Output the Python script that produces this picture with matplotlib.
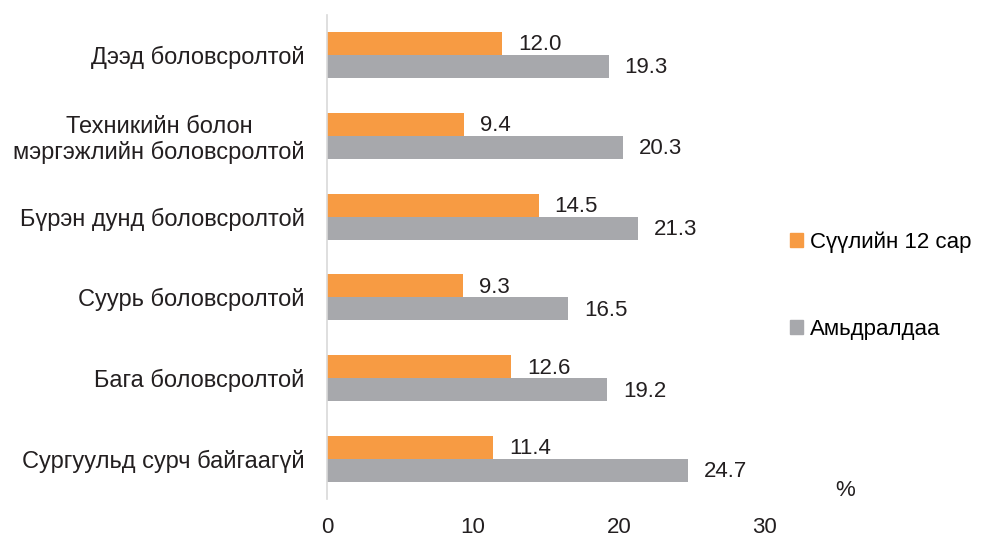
import numpy as np
import matplotlib.pyplot as plt
from matplotlib.patches import Patch

plt.rcParams['font.family'] = ['Liberation Sans', 'DejaVu Sans']

# --- dane ---
categories = [
    "Дээд боловсролтой",
    "Техникийн болон\nмэргэжлийн боловсролтой",
    "Бүрэн дунд боловсролтой",
    "Суурь боловсролтой",
    "Бага боловсролтой",
    "Сургуульд сурч байгаагүй",
]
last_12_months = [12.0, 9.4, 14.5, 9.3, 12.6, 11.4]
lifetime = [19.3, 20.3, 21.3, 16.5, 19.2, 24.7]
series_labels = ["Сүүлийн 12 сар", "Амьдралдаа"]
x_ticks = [0, 10, 20, 30]

ORANGE = "#F79B43"
GRAY = "#A7A8AC"
TXT = "#231F20"

fig = plt.figure(figsize=(9.82, 5.39), dpi=100)
ax = fig.add_axes([0.333, 0.0735, 0.446, 0.8995])

y = np.arange(len(categories))
h = 0.285
b1 = ax.barh(y - h / 2, last_12_months, height=h, color=ORANGE)
b2 = ax.barh(y + h / 2, lifetime, height=h, color=GRAY)

for bars in (b1, b2):
    for rect in bars:
        w = rect.get_width()
        ax.annotate(f"{w:.1f}", (w, rect.get_y() + rect.get_height() / 2),
                    xytext=(11.5, -1), textcoords="offset points",
                    va="center", ha="left", fontsize=16, color=TXT)

ax.set_ylim(len(categories) - 0.5, -0.5)
ax.set_xlim(0, 30)
ax.set_yticks(y)
ax.set_yticklabels(categories, fontsize=17, color=TXT, ha="right",
                   multialignment="center")
ax.set_xticks(x_ticks)
ax.set_xticklabels([str(t) for t in x_ticks], fontsize=16, color=TXT)
ax.tick_params(axis="both", length=0)
ax.tick_params(axis="x", pad=13)
ax.tick_params(axis="y", pad=16)

for s in ("top", "right", "bottom"):
    ax.spines[s].set_visible(False)
ax.spines["left"].set_color("#D9D9D9")
ax.spines["left"].set_linewidth(1.2)

fig.text(845 / 982, 1 - 491 / 539, "%", fontsize=16, color=TXT,
         ha="center", va="center")

handles = [Patch(color=ORANGE, label=series_labels[0]),
           Patch(color=GRAY, label=series_labels[1])]
fig.legend(handles=handles, loc="center left", bbox_to_anchor=(0.804, 0.47),
           frameon=False, fontsize=16, handlelength=0.6, handleheight=0.6,
           handletextpad=0.3, labelspacing=3.0, borderpad=0, borderaxespad=0)

plt.savefig("out.png", dpi=100)
